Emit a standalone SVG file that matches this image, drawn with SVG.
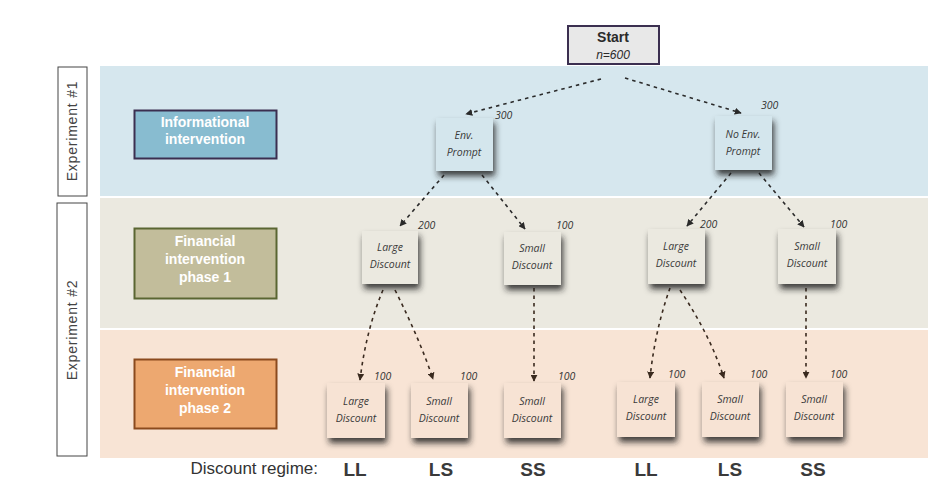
<svg xmlns="http://www.w3.org/2000/svg" width="938" height="492" viewBox="0 0 938 492">
<style>
.lbl{font-family:"Liberation Sans",Arial,sans-serif;font-weight:bold;font-size:14px;fill:#ffffff;text-anchor:middle}
.exp{font-family:"Liberation Sans",Arial,sans-serif;font-size:14px;letter-spacing:0.8px;fill:#444;text-anchor:middle}
.nt{font-family:"Open Sans","Lato",sans-serif;font-style:italic;font-size:10.5px;fill:#3a3a3a;text-anchor:middle}
.num{font-family:"Open Sans","Lato",sans-serif;font-style:italic;font-size:10.5px;fill:#333}
.reg{font-family:"Liberation Sans",Arial,sans-serif;font-weight:bold;font-size:19px;fill:#3a3a3a;text-anchor:middle}
.con{fill:none;stroke:#2a2a2a;stroke-width:1.6;stroke-dasharray:3.5 4}
.con2{fill:none;stroke:#3a2a1f;stroke-width:1.6;stroke-dasharray:3.5 4}
.b1{fill:#d4e6ed}
.b2{fill:#ebe9e0}
.b3{fill:#f7e3d4}
</style>
<defs>
<filter id="sh" x="-30%" y="-30%" width="170%" height="180%">
<feDropShadow dx="2" dy="5" stdDeviation="3" flood-color="#222" flood-opacity="0.85"/>
</filter>
<marker id="ar" viewBox="0 0 10 10" refX="9" refY="5" markerWidth="7" markerHeight="7" orient="auto-start-reverse" markerUnits="userSpaceOnUse">
<path d="M0,0 L10,5 L0,10 z" fill="#2a2a2a"/>
</marker>
<marker id="ar2" viewBox="0 0 10 10" refX="9" refY="5" markerWidth="7" markerHeight="7" orient="auto-start-reverse" markerUnits="userSpaceOnUse">
<path d="M0,0 L10,5 L0,10 z" fill="#3a2a1f"/>
</marker>
</defs>
<rect width="938" height="492" fill="#ffffff"/>
<g id="bands">
<rect x="100" y="66" width="828" height="130" fill="#d6e7ee"/>
<rect x="100" y="198" width="828" height="130" fill="#ebe9e0"/>
<rect x="100" y="330" width="828" height="128" fill="#f8e4d5"/>
</g>
<g id="exp1">
<rect x="58" y="67" width="29" height="129" fill="#fff" stroke="#444" stroke-width="1"/>
<text class="exp" transform="translate(77,131) rotate(-90)">Experiment  #1</text>
</g>
<g id="exp2">
<rect x="57" y="203" width="30" height="253" fill="#fff" stroke="#444" stroke-width="1"/>
<text class="exp" transform="translate(77,330) rotate(-90)">Experiment  #2</text>
</g>
<g id="info">
<rect x="134.5" y="110.5" width="142" height="48" fill="#88bcd0" stroke="#3b2f50" stroke-width="2"/>
<text class="lbl" x="205" y="127">Informational</text>
<text class="lbl" x="205" y="144">intervention</text>
</g>
<g id="fin1">
<rect x="134.5" y="228.5" width="142" height="70" fill="#c2bd9b" stroke="#5a6632" stroke-width="2"/>
<text class="lbl" x="205" y="246">Financial</text>
<text class="lbl" x="205" y="264">intervention</text>
<text class="lbl" x="205" y="282">phase 1</text>
</g>
<g id="fin2">
<rect x="134.5" y="359.5" width="142" height="69" fill="#eda870" stroke="#8b4a1e" stroke-width="2"/>
<text class="lbl" x="205" y="377">Financial</text>
<text class="lbl" x="205" y="395">intervention</text>
<text class="lbl" x="205" y="413">phase 2</text>
</g>
<g id="start">
<rect x="568" y="26" width="91" height="38" fill="#e8e8e8" stroke="#3b2f50" stroke-width="2"/>
<text x="613" y="42" text-anchor="middle" font-family="Liberation Sans,Arial,sans-serif" font-weight="bold" font-size="14" fill="#2a2a2a">Start</text>
<text x="613" y="59" text-anchor="middle" font-family="Liberation Sans,Arial,sans-serif" font-style="italic" font-size="12" fill="#2a2a2a">n=600</text>
</g>
<g id="connectors">
<path class="con" d="M601,79 L466,114" marker-end="url(#ar)"/>
<path class="con" d="M625,78 L741,113" marker-end="url(#ar)"/>
<path class="con" d="M444,175 L400,226" marker-end="url(#ar)"/>
<path class="con" d="M482,175 L525,229" marker-end="url(#ar)"/>
<path class="con" d="M731,173 L687,226" marker-end="url(#ar)"/>
<path class="con" d="M759,173 L804,227" marker-end="url(#ar)"/>
<path class="con2" d="M383,290 Q366,330 360,380" marker-end="url(#ar2)"/>
<path class="con2" d="M395,290 Q420,340 433,379" marker-end="url(#ar2)"/>
<path class="con2" d="M534,288 L534,381" stroke-width="2.2" marker-end="url(#ar2)"/>
<path class="con2" d="M670,288 Q655,330 650,378" marker-end="url(#ar2)"/>
<path class="con2" d="M680,290 Q710,335 724,378" marker-end="url(#ar2)"/>
<path class="con2" d="M806,288 L806,378" stroke-width="2.2" marker-end="url(#ar2)"/>
</g>
<g id="n_env">
<rect x="436" y="118" width="57" height="53" class="b1" filter="url(#sh)"/>
<text class="nt" x="464" y="139">Env.</text>
<text class="nt" x="464" y="156">Prompt</text>
<text class="num" x="495" y="119">300</text>
</g>
<g id="n_noenv">
<rect x="715" y="116" width="57" height="54" class="b1" filter="url(#sh)"/>
<text class="nt" x="743" y="138">No Env.</text>
<text class="nt" x="743" y="155">Prompt</text>
<text class="num" x="761" y="109">300</text>
</g>
<g id="n_l1">
<rect x="362" y="231" width="56" height="53" class="b2" filter="url(#sh)"/>
<text class="nt" x="390" y="251">Large</text>
<text class="nt" x="390" y="268">Discount</text>
<text class="num" x="418" y="229">200</text>
</g>
<g id="n_s1">
<rect x="504" y="232" width="57" height="53" class="b2" filter="url(#sh)"/>
<text class="nt" x="532" y="252">Small</text>
<text class="nt" x="532" y="269">Discount</text>
<text class="num" x="556" y="229">100</text>
</g>
<g id="n_l2">
<rect x="648" y="229" width="57" height="55" class="b2" filter="url(#sh)"/>
<text class="nt" x="676" y="250">Large</text>
<text class="nt" x="676" y="267">Discount</text>
<text class="num" x="700" y="228">200</text>
</g>
<g id="n_s2">
<rect x="778" y="229" width="58" height="55" class="b2" filter="url(#sh)"/>
<text class="nt" x="807" y="250">Small</text>
<text class="nt" x="807" y="267">Discount</text>
<text class="num" x="830" y="228">100</text>
</g>
<g id="n_ll1">
<rect x="327" y="383" width="58" height="55" class="b3" filter="url(#sh)"/>
<text class="nt" x="356" y="405">Large</text>
<text class="nt" x="356" y="422">Discount</text>
<text class="num" x="374" y="380">100</text>
</g>
<g id="n_ls1">
<rect x="411" y="383" width="57" height="55" class="b3" filter="url(#sh)"/>
<text class="nt" x="439" y="405">Small</text>
<text class="nt" x="439" y="422">Discount</text>
<text class="num" x="460" y="380">100</text>
</g>
<g id="n_ss1">
<rect x="504" y="383" width="57" height="55" class="b3" filter="url(#sh)"/>
<text class="nt" x="532" y="405">Small</text>
<text class="nt" x="532" y="422">Discount</text>
<text class="num" x="558" y="380">100</text>
</g>
<g id="n_ll2">
<rect x="617" y="382" width="58" height="55" class="b3" filter="url(#sh)"/>
<text class="nt" x="646" y="403">Large</text>
<text class="nt" x="646" y="420">Discount</text>
<text class="num" x="668" y="378">100</text>
</g>
<g id="n_ls2">
<rect x="702" y="382" width="57" height="55" class="b3" filter="url(#sh)"/>
<text class="nt" x="730" y="403">Small</text>
<text class="nt" x="730" y="420">Discount</text>
<text class="num" x="750" y="378">100</text>
</g>
<g id="n_ss2">
<rect x="786" y="382" width="57" height="55" class="b3" filter="url(#sh)"/>
<text class="nt" x="814" y="403">Small</text>
<text class="nt" x="814" y="420">Discount</text>
<text class="num" x="830" y="378">100</text>
</g>
<g id="regime">
<text x="318" y="474" text-anchor="end" font-family="Liberation Sans,Arial,sans-serif" font-size="17" fill="#333">Discount regime:</text>
<text class="reg" x="355" y="476">LL</text>
<text class="reg" x="441" y="476">LS</text>
<text class="reg" x="533" y="476">SS</text>
<text class="reg" x="646" y="476">LL</text>
<text class="reg" x="730" y="476">LS</text>
<text class="reg" x="813" y="476">SS</text>
</g>
</svg>
